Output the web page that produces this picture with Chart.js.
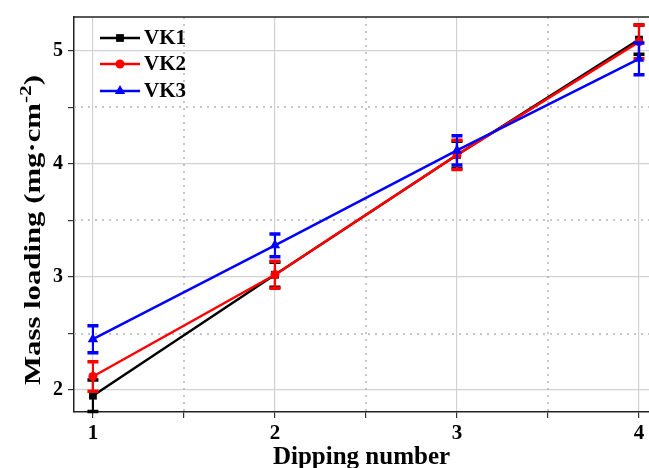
<!DOCTYPE html>
<html>
<head>
<meta charset="utf-8">
<script src="https://cdn.jsdelivr.net/npm/chart.js@4"></script>
<style>
  body { margin: 0; background: #fff; }
  #wrap { width: 649px; height: 468px; }
</style>
</head>
<body>
<div id="wrap"><canvas id="my-chart" width="649" height="468"></canvas></div>
<script>
let dippings = [1, 2, 3, 4];
let vk1 = [1.95, 3.02, 4.08, 5.10];
let vk1err = [0.14, 0.11, 0.12, 0.13];
let vk2 = [2.12, 3.02, 4.08, 5.08];
let vk2err = [0.13, 0.12, 0.13, 0.15];
let vk3 = [2.45, 3.28, 4.12, 4.93];
let vk3err = [0.12, 0.10, 0.13, 0.14];
let xTicks = [1, 1.5, 2, 2.5, 3, 3.5, 4];
let yTicks = [2, 2.5, 3, 3.5, 4, 4.5, 5];
let seriesNames = ['VK1', 'VK2', 'VK3'];

let serif = "'Liberation Serif', 'Times New Roman', serif";

function toPoints(ys) {
  let pts = [];
  for (let i = 0; i < dippings.length; i++) {
    pts.push({ x: dippings[i], y: ys[i] });
  }
  return pts;
}

function isWhole(v) {
  return Math.abs(v - Math.round(v)) < 1e-6;
}

function makeSet(name, ys, errs, color, style, radius, order) {
  return {
    label: name,
    data: toPoints(ys),
    errors: errs,
    borderColor: color,
    backgroundColor: color,
    borderWidth: 2.5,
    pointStyle: style,
    pointRadius: radius,
    pointBorderWidth: 0,
    pointBackgroundColor: color,
    order: order,
    tension: 0
  };
}

// error bars, drawn just before each dataset's own line
let errorBars = {
  id: 'errorBars',
  beforeDatasetDraw(chart, args) {
    let ds = chart.data.datasets[args.index];
    let ctx = chart.ctx;
    let xs = chart.scales.x;
    let ys = chart.scales.y;
    ctx.save();
    ctx.strokeStyle = ds.borderColor;
    for (let i = 0; i < ds.data.length; i++) {
      let px = xs.getPixelForValue(ds.data[i].x);
      let top = ys.getPixelForValue(ds.data[i].y + ds.errors[i]);
      let bot = ys.getPixelForValue(ds.data[i].y - ds.errors[i]);
      ctx.lineWidth = 2.2;
      ctx.beginPath();
      ctx.moveTo(px, top);
      ctx.lineTo(px, bot);
      ctx.stroke();
      ctx.lineWidth = 3.5;
      ctx.beginPath();
      ctx.moveTo(px - 5.5, top);
      ctx.lineTo(px + 5.5, top);
      ctx.moveTo(px - 5.5, bot);
      ctx.lineTo(px + 5.5, bot);
      ctx.stroke();
    }
    ctx.restore();
  }
};

// dotted minor grid lines at the half steps
let minorGrid = {
  id: 'minorGrid',
  beforeDatasetsDraw(chart) {
    let ctx = chart.ctx;
    let a = chart.chartArea;
    ctx.save();
    ctx.strokeStyle = '#b4b4b4';
    ctx.lineWidth = 1.5;
    ctx.setLineDash([2, 5]);
    for (let v of xTicks) {
      if (isWhole(v)) continue;
      let px = Math.round(chart.scales.x.getPixelForValue(v));
      ctx.beginPath();
      ctx.moveTo(px, a.top);
      ctx.lineTo(px, a.bottom);
      ctx.stroke();
    }
    for (let v of yTicks) {
      if (isWhole(v)) continue;
      let py = Math.round(chart.scales.y.getPixelForValue(v));
      ctx.beginPath();
      ctx.moveTo(a.left, py);
      ctx.lineTo(a.right, py);
      ctx.stroke();
    }
    ctx.restore();
  }
};

// frame top, x tick labels, legend and axis titles
let extras = {
  id: 'extras',
  afterDraw(chart) {
    let ctx = chart.ctx;
    let a = chart.chartArea;
    ctx.save();
    ctx.strokeStyle = '#222';
    ctx.lineWidth = 1.5;
    ctx.beginPath();
    ctx.moveTo(a.left, a.top);
    ctx.lineTo(chart.width, a.top);
    ctx.stroke();

    // x tick labels (drawn here so the last one adds no right padding)
    ctx.fillStyle = '#000';
    ctx.font = 'bold 21px ' + serif;
    ctx.textAlign = 'center';
    ctx.textBaseline = 'middle';
    for (let v of xTicks) {
      if (!isWhole(v)) continue;
      ctx.fillText(String(v), chart.scales.x.getPixelForValue(v), a.bottom + 22);
    }

    // legend
    let rows = [38, 64, 91];
    for (let i = 0; i < chart.data.datasets.length; i++) {
      let ds = chart.data.datasets[i];
      ctx.strokeStyle = ds.borderColor;
      ctx.lineWidth = 2.5;
      ctx.beginPath();
      ctx.moveTo(100, rows[i]);
      ctx.lineTo(140, rows[i]);
      ctx.stroke();
      ctx.fillStyle = ds.borderColor;
      Chart.helpers.drawPoint(ctx, { pointStyle: ds.pointStyle, radius: ds.pointRadius, rotation: 0, borderWidth: 0 }, 120, rows[i]);
      ctx.fillStyle = '#000';
      ctx.font = 'bold 21px ' + serif;
      ctx.textAlign = 'left';
      ctx.textBaseline = 'middle';
      ctx.fillText(seriesNames[i], 144, rows[i] + 1);
    }

    // x title
    ctx.fillStyle = '#000';
    ctx.font = 'bold 25px ' + serif;
    ctx.textAlign = 'center';
    ctx.textBaseline = 'alphabetic';
    ctx.fillText('Dipping number', (a.left + a.right) / 2, 464);

    // y title with superscript, stretched along its length like the original
    let main = 'Mass loading (mg\u00B7cm';
    let sup = '-2';
    let tail = ')';
    ctx.font = 'bold 23px ' + serif;
    let w1 = ctx.measureText(main).width;
    let w3 = ctx.measureText(tail).width;
    ctx.font = 'bold 16px ' + serif;
    let w2 = ctx.measureText(sup).width;
    let total = w1 + w2 + w3;
    ctx.translate(40, 230);
    ctx.rotate(-Math.PI / 2);
    ctx.scale(310 / total, 1);
    let x0 = -total / 2;
    ctx.textAlign = 'left';
    ctx.font = 'bold 23px ' + serif;
    ctx.fillText(main, x0, 0);
    ctx.font = 'bold 16px ' + serif;
    ctx.fillText(sup, x0 + w1, -9);
    ctx.font = 'bold 23px ' + serif;
    ctx.fillText(tail, x0 + w1 + w2, 0);
    ctx.restore();
  }
};

function tickLabel(v) {
  return isWhole(v) ? String(Math.round(v)) : '';
}

let chartcontext = document.getElementById('my-chart').getContext('2d');

let chartConfig = {
  type: 'line',
  data: {
    datasets: [
      makeSet('VK1', vk1, vk1err, '#000000', 'rect', 5.5, 2),
      makeSet('VK2', vk2, vk2err, '#ff0000', 'circle', 4.5, 1),
      makeSet('VK3', vk3, vk3err, '#0000ff', 'triangle', 6, 0)
    ]
  },
  options: {
    responsive: false,
    animation: false,
    devicePixelRatio: 1,
    layout: { autoPadding: false, padding: { top: 16, right: 0, left: 0, bottom: 0 } },
    plugins: {
      legend: { display: false },
      tooltip: { enabled: false }
    },
    scales: {
      x: {
        type: 'linear',
        min: 0.896,
        max: 4.055,
        afterFit(s) { s.height = 56; },
        afterBuildTicks(s) { s.ticks = xTicks.map(v => ({ value: v })); },
        ticks: { display: false },
        grid: {
          color: c => (c.tick && isWhole(c.tick.value)) ? '#d2d2d2' : 'rgba(0,0,0,0)',
          lineWidth: 1.2,
          tickColor: '#333',
          tickLength: 6,
          tickWidth: 1.2
        },
        border: { color: '#222', width: 1.5 }
      },
      y: {
        type: 'linear',
        min: 1.806,
        max: 5.3,
        afterFit(s) { s.width = 74; },
        afterBuildTicks(s) { s.ticks = yTicks.map(v => ({ value: v })); },
        ticks: {
          callback: tickLabel,
          color: '#000',
          font: { family: serif, size: 20, weight: 'bold' },
          padding: 5,
          autoSkip: false
        },
        grid: {
          color: c => (c.tick && isWhole(c.tick.value)) ? '#d2d2d2' : 'rgba(0,0,0,0)',
          lineWidth: 1.2,
          tickColor: '#333',
          tickLength: 6,
          tickWidth: 1.2
        },
        border: { color: '#222', width: 1.5 }
      }
    }
  },
  plugins: [minorGrid, errorBars, extras]
};

let mychart = new Chart(chartcontext, chartConfig);
</script>
</body>
</html>
